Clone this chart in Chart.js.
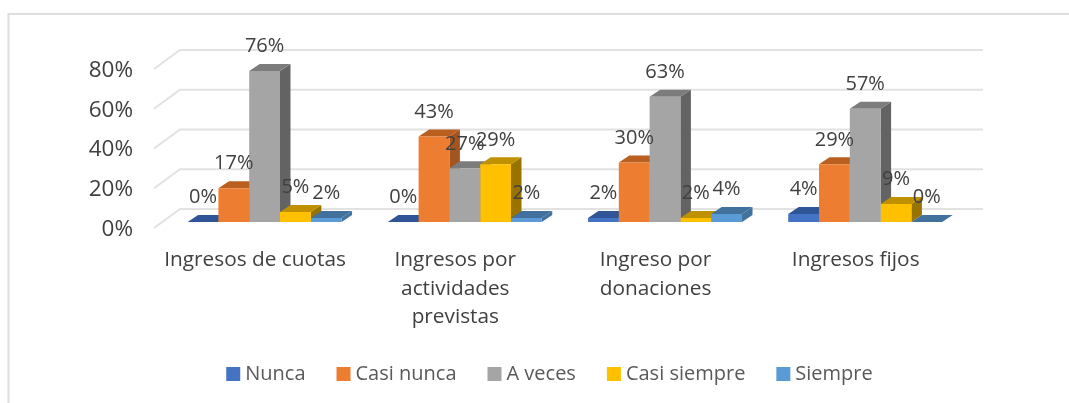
<!DOCTYPE html>
<html>
<head>
<meta charset="utf-8">
<style>
  html, body { margin: 0; padding: 0; background: #fff; overflow: hidden; }
  #chart { display: block; }
</style>
</head>
<body>
<canvas id="chart" width="1069" height="403"></canvas>
<script src="https://cdn.jsdelivr.net/npm/chart.js@4"></script>
<script>
const categories = ["Ingresos de cuotas", ["Ingresos por", "actividades", "previstas"], ["Ingreso por", "donaciones"], "Ingresos fijos"];
const yTicks = [0, 20, 40, 60, 80];

const nunca = [0, 0, 2, 4];
const casiNunca = [17, 43, 30, 29];
const aVeces = [76, 27, 63, 57];
const casiSiempre = [5, 29, 2, 9];
const siempre = [2, 2, 4, 0];

const FONT = "'Open Sans', sans-serif";
const TEXT = "#404040";

// [front, top face, side face]
const shades = {
    nunca: ["#4472C4", "#2F5597", "#2F5597"],
    casiNunca: ["#ED7D31", "#B95F20", "#A4541E"],
    aVeces: ["#A5A5A5", "#7C7C7C", "#636363"],
    casiSiempre: ["#FFC000", "#BF9000", "#997300"],
    siempre: ["#5B9BD5", "#41719C", "#41719C"]
};

function makeSet(label, data, key) {
    return {
        label,
        data,
        backgroundColor: shades[key][0],
        borderWidth: 0,
        topColor: shades[key][1],
        sideColor: shades[key][2],
        categoryPercentage: 0.769,
        barPercentage: 1
    };
}

function face(ctx, pts, color) {
    ctx.fillStyle = color;
    ctx.beginPath();
    pts.forEach((p, i) => i ? ctx.lineTo(p[0], p[1]) : ctx.moveTo(p[0], p[1]));
    ctx.closePath();
    ctx.fill();
}

const wallPlugin = {
    id: "wall3d",
    beforeDatasetsDraw(chart) {
        const ctx = chart.ctx;
        const area = chart.chartArea;
        const y = chart.scales.y;
        ctx.save();
        ctx.strokeStyle = "#E2E2E2";
        ctx.lineWidth = 2;
        yTicks.forEach(v => {
            const py = y.getPixelForValue(v);
            ctx.beginPath();
            ctx.moveTo(area.left - 10.5, py + 6);
            ctx.lineTo(area.left + 15.5, py - 13);
            ctx.lineTo(area.right + 17.5, py - 13);
            ctx.stroke();
        });

        // depth faces first, in series order, the native fronts cover them afterwards
        const dx = 10.5, dy = 7;
        chart.data.datasets.forEach((ds, i) => {
            chart.getDatasetMeta(i).data.forEach(bar => {
                const half = bar.width / 2;
                const l = bar.x - half, r = bar.x + half;
                const t = bar.y, b = bar.base;
                face(ctx, [[r, t], [r + dx, t - dy], [r + dx, b - dy], [r, b]], ds.sideColor);
                face(ctx, [[l, t], [l + dx, t - dy], [r + dx, t - dy], [r, t]], ds.topColor);
            });
        });
        ctx.restore();
    },
    afterDatasetsDraw(chart) {
        const ctx = chart.ctx;
        ctx.save();
        ctx.fillStyle = TEXT;
        ctx.font = "20px " + FONT;
        ctx.textAlign = "center";
        ctx.textBaseline = "middle";
        chart.data.datasets.forEach((ds, i) => {
            chart.getDatasetMeta(i).data.forEach((bar, j) => {
                ctx.fillText(ds.data[j] + "%", bar.x, bar.y - 24.5);
            });
        });
        ctx.restore();
    }
};

// only the top and left edges of the original frame are in the crop
const framePlugin = {
    id: "frame",
    beforeDraw(chart) {
        const ctx = chart.ctx;
        ctx.save();
        ctx.strokeStyle = "#DEDEDE";
        ctx.lineWidth = 2;
        ctx.beginPath();
        ctx.moveTo(8.5, 403);
        ctx.lineTo(8.5, 14);
        ctx.lineTo(1069, 14);
        ctx.stroke();
        ctx.restore();
    }
};

// native legend leaves too wide a gap between swatch and text
const legendPlugin = {
    id: "legendRow",
    afterDraw(chart) {
        const ctx = chart.ctx;
        const box = 14, gap = 5, spacing = 31;
        const sets = chart.data.datasets;
        ctx.save();
        ctx.font = "20px " + FONT;
        ctx.textBaseline = "middle";
        const total = sets.reduce((acc, ds) => acc + box + gap + ctx.measureText(ds.label).width, 0) + spacing * (sets.length - 1);
        let x = 549.5 - total / 2;
        sets.forEach(ds => {
            ctx.fillStyle = ds.backgroundColor;
            ctx.fillRect(x, 367, box, box);
            ctx.fillStyle = "#595959";
            ctx.fillText(ds.label, x + box + gap, 374);
            x += box + gap + ctx.measureText(ds.label).width + spacing;
        });
        ctx.restore();
    }
};

new Chart(document.getElementById("chart"), {
    type: "bar",
    data: {
        labels: categories,
        datasets: [
            makeSet("Nunca", nunca, "nunca"),
            makeSet("Casi nunca", casiNunca, "casiNunca"),
            makeSet("A veces", aVeces, "aVeces"),
            makeSet("Casi siempre", casiSiempre, "casiSiempre"),
            makeSet("Siempre", siempre, "siempre")
        ]
    },
    options: {
        responsive: false,
        animation: false,
        layout: { padding: { left: 80, right: 103.7, top: 63, bottom: 51 } },
        plugins: {
            tooltip: { enabled: false },
            legend: { display: false }
        },
        scales: {
            x: {
                grid: { display: false, drawTicks: false },
                border: { display: false },
                afterFit: s => { s.height = 130; },
                ticks: {
                    color: TEXT,
                    padding: 24,
                    labelOffset: -9.5,
                    maxRotation: 0,
                    autoSkip: false,
                    font: { family: FONT, size: 20.8, lineHeight: 1.37 }
                }
            },
            y: {
                min: 0,
                max: 80,
                grid: { display: false, drawTicks: false },
                border: { display: false },
                afterFit: s => { s.width = 84.5; },
                afterBuildTicks: s => { s.ticks = yTicks.map(v => ({ value: v })); },
                ticks: {
                    color: TEXT,
                    padding: 31.5,
                    labelOffset: 7.5,
                    callback: v => v + "%",
                    font: { family: FONT, size: 22.5 }
                }
            }
        }
    },
    plugins: [framePlugin, wallPlugin, legendPlugin]
});
</script>
</body>
</html>
